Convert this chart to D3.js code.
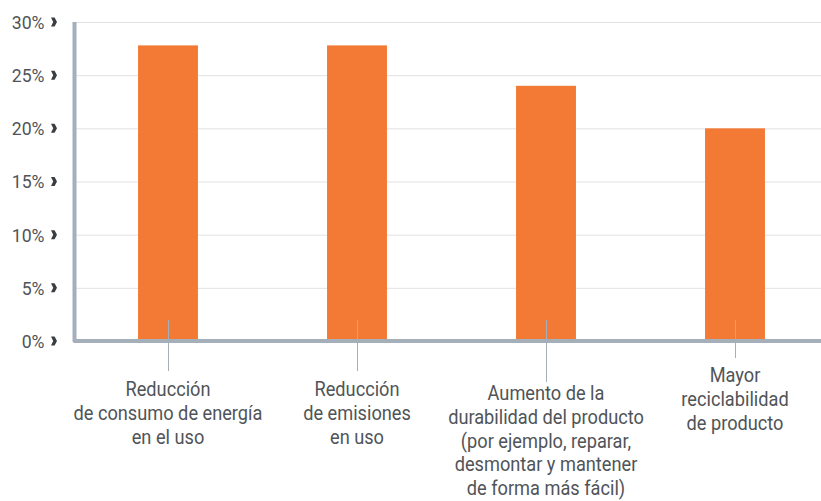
<!DOCTYPE html>
<html><head><meta charset="utf-8">
<script src="https://cdn.jsdelivr.net/npm/d3@7"></script>
<style>body{margin:0;background:#fff}svg{display:block}</style>
</head><body>
<svg id="c" width="821" height="501"></svg>
<script>
const categories = [
  ["Reducción", "de consumo de energía", "en el uso"],
  ["Reducción", "de emisiones", "en uso"],
  ["Aumento de la", "durabilidad del producto", "(por ejemplo, reparar,", "desmontar y mantener", "de forma más fácil)"],
  ["Mayor", "reciclabilidad", "de producto"]
];
const values = [27.8, 27.8, 24.0, 20.0];
const yTicks = [0, 5, 10, 15, 20, 25, 30];
const tickLabels = ["0%", "5%", "10%", "15%", "20%", "25%", "30%"];

const svg = d3.select("#c");
const W = 821;
const axisX = 74.5, baseY = 341, topY = 22;
const font = "Roboto, 'Noto Sans', sans-serif";
const textCol = "#505458";
const axisCol = "#a4afba";

const y = d3.scaleLinear().domain([0, 30]).range([baseY, topY]);
const x = d3.scaleBand().domain(d3.range(categories.length))
  .range([73.5, 829.5]).paddingInner(0.683).paddingOuter(0.3415);

// gridlines
svg.append("g").selectAll("line").data(yTicks.filter(d => d > 0)).join("line")
  .attr("x1", axisX).attr("x2", W)
  .attr("y1", d => y(d) + 0.5).attr("y2", d => y(d) + 0.5)
  .attr("stroke", "#e2e2e2").attr("stroke-width", 1);

// bars
svg.append("g").selectAll("rect").data(values).join("rect")
  .attr("x", (d, i) => x(i)).attr("width", x.bandwidth())
  .attr("y", d => y(d)).attr("height", d => y(0) - y(d))
  .attr("fill", "#f37a35");

// axes lines
svg.append("path")
  .attr("d", `M${axisX},${topY} L${axisX},${baseY} L${W},${baseY}`)
  .attr("fill", "none").attr("stroke", axisCol).attr("stroke-width", 4)
  .attr("stroke-linejoin", "round");

// y tick labels with chevrons
const yt = svg.append("g").selectAll("g").data(yTicks).join("g")
  .attr("transform", d => `translate(0,${y(d)})`);
yt.append("text")
  .attr("transform", "translate(44.5,0) scale(0.93,1)")
  .attr("text-anchor", "end").attr("dy", "0.36em")
  .attr("font-family", font).attr("font-size", 19).attr("fill", textCol)
  .text((d, i) => tickLabels[i]);
yt.append("path")
  .attr("d", "M51,-4.5 L54.6,-4.5 L57,0 L54.6,4.5 L51,4.5 L53.2,0 Z")
  .attr("fill", "#3a3e42");

// connector lines and category labels (layout)
const lineStart = 320;
const lineEnds = [371, 371, 382, 358];
const firstBase = [396, 396, 400, 382];
const lineStep = 23.8;
const cg = svg.append("g").selectAll("g").data(categories).join("g");
cg.append("line")
  .attr("x1", (d, i) => x(i) + x.bandwidth() / 2 + 0.5)
  .attr("x2", (d, i) => x(i) + x.bandwidth() / 2 + 0.5)
  .attr("y1", lineStart).attr("y2", (d, i) => lineEnds[i])
  .attr("stroke", axisCol).attr("stroke-width", 1);
cg.append("text")
  .attr("transform", (d, i) => `translate(${x(i) + x.bandwidth() / 2},${firstBase[i]}) scale(0.91,1)`)
  .attr("text-anchor", "middle")
  .attr("font-family", font).attr("font-size", 20).attr("fill", textCol)
  .selectAll("tspan").data(d => d).join("tspan")
  .attr("x", 0).attr("y", (d, j) => j * lineStep)
  .text(d => d);
</script>
</body></html>
